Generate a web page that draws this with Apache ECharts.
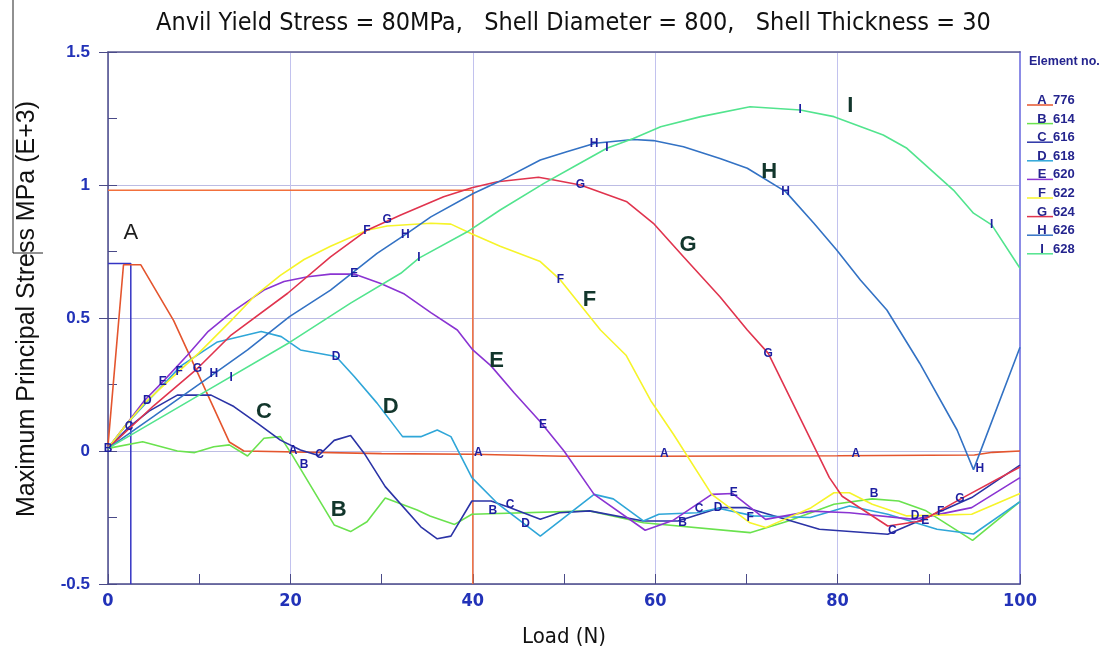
<!DOCTYPE html>
<html>
<head>
<meta charset="utf-8">
<script src="https://cdn.jsdelivr.net/npm/echarts@6/dist/echarts.min.js"></script>
<style>
  html, body { margin: 0; padding: 0; background: #fff; }
  #chart { width: 1113px; height: 653px; }
</style>
</head>
<body>
<div id="chart"></div>
<script>
// Element stress histories: [load (N), max principal stress (MPa, E+3)]
const elemA = [[0,0.02],[1.7,0.70],[3.6,0.70],[7.2,0.49],[13.3,0.034],[14.9,0.0],[30,-0.01],[40,-0.012],[50,-0.02],[60,-0.02],[80,-0.018],[95,-0.015],[97,-0.005],[100,0.0]];
const elemB = [[0,0.01],[3.8,0.035],[7.6,0.0],[9.5,-0.006],[11.6,0.016],[13.3,0.023],[15.3,-0.019],[17.1,0.048],[18.9,0.054],[20.1,-0.01],[24.8,-0.278],[26.6,-0.303],[28.4,-0.266],[30.4,-0.177],[33.9,-0.222],[35.3,-0.244],[38.0,-0.276],[39.9,-0.238],[52.8,-0.225],[58.7,-0.27],[70.4,-0.307],[74.6,-0.263],[79.6,-0.20],[83.8,-0.18],[86.7,-0.188],[89.7,-0.225],[94.8,-0.336],[100,-0.19]];
const elemC = [[0,0.01],[2.3,0.09],[4.5,0.15],[7.6,0.21],[11.3,0.21],[13.8,0.167],[16.4,0.104],[18.9,0.041],[21.1,0.004],[23.1,-0.017],[24.8,0.04],[26.6,0.058],[28.1,-0.009],[30.4,-0.134],[34.3,-0.285],[36.1,-0.33],[37.6,-0.32],[39.9,-0.188],[42.0,-0.188],[44.1,-0.213],[47.4,-0.257],[49.5,-0.232],[52.8,-0.225],[58.7,-0.263],[62.5,-0.263],[67.1,-0.213],[70.0,-0.213],[78,-0.294],[85.5,-0.313],[88.9,-0.263],[94.7,-0.175],[100,-0.053]];
const elemD = [[0,0.01],[2,0.1],[4.3,0.185],[8,0.32],[12,0.41],[16.8,0.449],[19,0.43],[21.1,0.38],[25,0.355],[27,0.28],[29.5,0.18],[32.3,0.054],[34.3,0.054],[36.1,0.079],[37.6,0.054],[39.9,-0.1],[42.8,-0.2],[45.5,-0.27],[47.4,-0.32],[53.3,-0.163],[55.4,-0.18],[58.7,-0.263],[60.4,-0.238],[64.6,-0.232],[66.9,-0.215],[70.8,-0.244],[77,-0.25],[81.3,-0.207],[85.5,-0.238],[90.9,-0.294],[94.9,-0.312],[100,-0.19]];
const elemE = [[0,0.01],[2,0.1],[4,0.19],[6,0.26],[8.7,0.36],[11,0.45],[13.5,0.52],[17.1,0.605],[19.3,0.637],[21.9,0.655],[24.4,0.665],[27,0.665],[29.9,0.63],[32.5,0.59],[35.4,0.52],[38.3,0.455],[40,0.38],[42,0.32],[44.5,0.22],[47.4,0.11],[50,0.0],[53.3,-0.163],[58.9,-0.298],[62,-0.26],[66.2,-0.163],[68.5,-0.16],[72.1,-0.257],[77.1,-0.226],[81.3,-0.232],[88.4,-0.257],[94.7,-0.213],[100,-0.1]];
const elemF = [[0,0.01],[2,0.1],[4,0.18],[7.8,0.3],[10,0.37],[13.5,0.49],[16,0.58],[18.9,0.66],[21.5,0.72],[24.4,0.77],[28.4,0.83],[30.6,0.846],[35.4,0.856],[37.6,0.853],[39.8,0.818],[43,0.77],[47.4,0.712],[49.6,0.643],[54,0.455],[56.8,0.36],[59.5,0.19],[62,0.063],[66.2,-0.163],[70.4,-0.27],[72.1,-0.288],[77.1,-0.213],[79.6,-0.157],[81.3,-0.157],[83.8,-0.2],[87.6,-0.244],[94.7,-0.238],[100,-0.16]];
const elemG = [[0,0.01],[5,0.17],[9.8,0.31],[13.5,0.436],[19.7,0.593],[24.4,0.73],[28.4,0.83],[32.1,0.887],[36.8,0.956],[39.9,0.99],[42.7,1.012],[47.2,1.029],[48.9,1.019],[51.8,1.0],[56.9,0.937],[59.8,0.856],[63.1,0.73],[67.1,0.58],[70.1,0.455],[72.4,0.367],[79.1,-0.1],[80.5,-0.17],[85.5,-0.282],[89.2,-0.263],[93.4,-0.182],[100,-0.06]];
const elemH = [[0,0.01],[5,0.13],[11.6,0.29],[15.3,0.38],[19.9,0.505],[24.4,0.605],[29.5,0.743],[32.8,0.818],[35.4,0.88],[40.1,0.969],[42.7,1.01],[47.4,1.094],[50.3,1.125],[53.4,1.157],[57.6,1.171],[59.8,1.167],[63.1,1.144],[67.1,1.10],[70.1,1.063],[74.3,0.975],[77.4,0.856],[79.9,0.756],[82.5,0.643],[85.4,0.53],[89,0.33],[93.1,0.079],[94.9,-0.07],[100,0.39]];
const elemI = [[0,0.01],[10,0.21],[20,0.41],[26.6,0.556],[32.1,0.668],[34.1,0.725],[39.4,0.824],[43,0.906],[47.8,1.006],[51.4,1.075],[54.7,1.138],[57.6,1.175],[60.6,1.219],[65,1.257],[70.4,1.294],[75.9,1.282],[79.6,1.257],[85,1.188],[87.6,1.138],[92.7,0.981],[94.9,0.894],[96.9,0.85],[100,0.687]];

// Letter tags drawn along each curve
const tagsA = [[20.3,0.0],[40.6,-0.005],[61,-0.01],[82,-0.01]];
const tagsB = [[0,0.01],[21.5,-0.05],[42.2,-0.225],[63,-0.27],[84,-0.16]];
const tagsC = [[2.3,0.09],[23.2,-0.015],[44.1,-0.2],[64.8,-0.215],[86,-0.3]];
const tagsD = [[4.3,0.19],[25,0.355],[45.8,-0.275],[66.9,-0.213],[88.5,-0.245]];
const tagsE = [[6,0.26],[27,0.668],[47.7,0.1],[68.6,-0.155],[89.6,-0.262]];
const tagsF = [[7.8,0.3],[28.4,0.83],[49.6,0.643],[70.4,-0.25],[91.3,-0.23]];
const tagsG = [[9.8,0.31],[30.6,0.87],[51.8,1.0],[72.4,0.367],[93.4,-0.18]];
const tagsH = [[11.6,0.29],[32.6,0.812],[53.3,1.157],[74.3,0.975],[95.6,-0.065]];
const tagsI = [[13.5,0.275],[34.1,0.725],[54.7,1.14],[75.9,1.285],[96.9,0.85]];

// Large curve identifiers
const bigLetters = ['A','B','C','D','E','F','G','H','I'];
const bigPositions = [[2.5,0.82],[25.3,-0.22],[17.1,0.147],[31,0.165],[42.6,0.338],[52.8,0.568],[63.6,0.774],[72.5,1.049],[81.4,1.297]];

// Reference guide lines
const guideOrange = [[0,0.98],[40,0.98],[40,-0.5]];
const guideBlue = [[0,0.705],[2.5,0.705],[2.5,-0.5]];

const letters = ['A','B','C','D','E','F','G','H','I'];
const elementNos = ['776','614','616','618','620','622','624','626','628'];
const seriesData = [elemA, elemB, elemC, elemD, elemE, elemF, elemG, elemH, elemI];
const tagData = [tagsA, tagsB, tagsC, tagsD, tagsE, tagsF, tagsG, tagsH, tagsI];
const colors = ['#e4552e','#6ae24e','#2b33a6','#2fa6d8','#8a34d2','#f6f42a','#e0344e','#3372c4','#52e48e'];

const xTickLabels = ['0','20','40','60','80','100'];
const yTickLabels = ['-0.5','0','0.5','1','1.5'];

const titleText = 'Anvil Yield Stress = 80MPa,   Shell Diameter = 800,   Shell Thickness = 30';
const yName = 'Maximum Principal Stress MPa (E+3)';
const xName = 'Load (N)';
const legendTitle = 'Element no.';

const NARROW = '"Liberation Sans Narrow", "Arial Narrow", "DejaVu Sans Condensed", sans-serif';
const SANS = '"Liberation Sans", Arial, sans-serif';
const TICK_BLUE = '#2232b8';
const TAG_BLUE = '#1c1ea0';
const AXIS_DARK = '#4a4a88';

const chart = echarts.init(document.getElementById('chart'), null, { renderer: 'canvas' });

// invisible carrier symbol for text-only scatter series
const hiddenItem = { color: 'rgba(0,0,0,0)', opacity: 1 };

const series = [];
series.push({
  type: 'line', data: guideOrange, symbol: 'none', silent: true,
  lineStyle: { color: '#f2703c', width: 1.5 }, z: 1
});
series.push({
  type: 'line', data: guideBlue, symbol: 'none', silent: true,
  lineStyle: { color: '#3434c4', width: 1.5 }, z: 1
});
seriesData.forEach((d, i) => {
  series.push({
    name: letters[i], type: 'line', data: d, symbol: 'none',
    lineStyle: { color: colors[i], width: 1.6 }, z: 3
  });
});
tagData.forEach((d, i) => {
  series.push({
    type: 'scatter', data: d, symbol: 'circle', symbolSize: 1,
    itemStyle: hiddenItem, z: 5, silent: true,
    label: {
      show: true, position: 'inside', formatter: letters[i],
      color: TAG_BLUE, fontFamily: SANS, fontWeight: 'bold', fontSize: 12,
      textBorderWidth: 0
    }
  });
});
series.push({
  type: 'scatter', symbol: 'circle', symbolSize: 1, silent: true, z: 6,
  itemStyle: hiddenItem,
  data: bigPositions.map((p, i) => ({
    value: p,
    label: i === 0
      ? { color: '#1c1c1c', fontWeight: 'normal', fontSize: 22 }
      : { color: '#12362c', fontWeight: 'bold', fontSize: 22 }
  })),
  label: {
    show: true, position: 'inside', fontFamily: SANS, textBorderWidth: 0,
    formatter: (p) => bigLetters[p.dataIndex]
  }
});

// Legend block on the right
const legendGraphics = [{
  type: 'text', left: 1029, top: 55,
  style: { text: legendTitle, fill: '#24248e', font: 'bold 12.5px ' + SANS }
}];
letters.forEach((L, i) => {
  const y = 94 + i * 18.6;
  legendGraphics.push({
    type: 'line', shape: { x1: 1027, y1: y + 11, x2: 1053, y2: y + 11 },
    style: { stroke: colors[i], lineWidth: 1.5 }
  });
  legendGraphics.push({
    type: 'text', x: 1042, y: y, style: { text: L, fill: '#24248e', font: 'bold 13px ' + SANS, textAlign: 'center' }
  });
  legendGraphics.push({
    type: 'text', x: 1053, y: y, style: { text: elementNos[i], fill: '#24248e', font: 'bold 13px ' + SANS }
  });
});
// Frame stroke at the far left edge
legendGraphics.push({
  type: 'polyline', shape: { points: [[13, 0], [13, 253], [43, 253]] },
  style: { stroke: '#222', lineWidth: 1, fill: null }
});

const option = {
  animation: false,
  backgroundColor: '#ffffff',
  title: {
    text: titleText, left: 151, top: 6,
    textStyle: { fontFamily: NARROW, fontSize: 25, fontWeight: 'normal', color: '#111' }
  },
  grid: { left: 108, right: 93, top: 52, bottom: 68 },
  xAxis: [{
    type: 'value', min: 0, max: 100, interval: 20,
    name: xName, nameLocation: 'middle', nameGap: 42,
    nameTextStyle: { fontFamily: NARROW, fontSize: 22, color: '#111' },
    axisLine: { show: true, onZero: false, lineStyle: { color: AXIS_DARK, width: 1.5 } },
    axisTick: { show: false },
    axisLabel: {
      margin: 8, color: TICK_BLUE, fontFamily: NARROW, fontWeight: 'bold', fontSize: 18,
      formatter: (v) => xTickLabels[Math.round(v / 20)]
    },
    splitLine: { show: true, lineStyle: { color: '#c2c2ee', width: 1 } }
  }, {
    // minor tick marks along the bottom
    type: 'value', min: 0, max: 100, interval: 10, position: 'bottom',
    axisLine: { show: false, onZero: false }, axisLabel: { show: false }, splitLine: { show: false },
    axisTick: { show: true, inside: true, length: 10, lineStyle: { color: AXIS_DARK } }
  }, {
    // top frame edge
    type: 'value', min: 0, max: 100, position: 'top',
    axisLine: { show: true, onZero: false, lineStyle: { color: '#5a5a90', width: 1.5 } },
    axisTick: { show: false }, axisLabel: { show: false }, splitLine: { show: false }
  }],
  yAxis: [{
    type: 'value', min: -0.5, max: 1.5, interval: 0.5,
    name: yName, nameLocation: 'middle', nameGap: 68, nameRotate: 90,
    nameTextStyle: { fontFamily: SANS, fontSize: 25, color: '#111', padding: [0, 0, 0, 18] },
    axisLine: { show: true, onZero: false, lineStyle: { color: AXIS_DARK, width: 1.5 } },
    axisTick: { show: true, length: 9, lineStyle: { color: AXIS_DARK } },
    axisLabel: {
      margin: 18, color: TICK_BLUE, fontFamily: SANS, fontWeight: 'bold', fontSize: 17,
      formatter: (v) => yTickLabels[Math.round((v + 0.5) / 0.5)]
    },
    splitLine: { show: true, lineStyle: { color: '#bcbce4', width: 1 } }
  }, {
    // inner minor ticks on the left
    type: 'value', min: -0.5, max: 1.5, interval: 0.25, position: 'left',
    axisLine: { show: false, onZero: false }, axisLabel: { show: false }, splitLine: { show: false },
    axisTick: { show: true, inside: true, length: 9, lineStyle: { color: AXIS_DARK } }
  }, {
    // right frame edge
    type: 'value', min: -0.5, max: 1.5, position: 'right',
    axisLine: { show: true, onZero: false, lineStyle: { color: '#8c8ce6', width: 2 } },
    axisTick: { show: false }, axisLabel: { show: false }, splitLine: { show: false }
  }],
  series: series,
  graphic: legendGraphics
};

chart.setOption(option);
</script>
</body>
</html>
